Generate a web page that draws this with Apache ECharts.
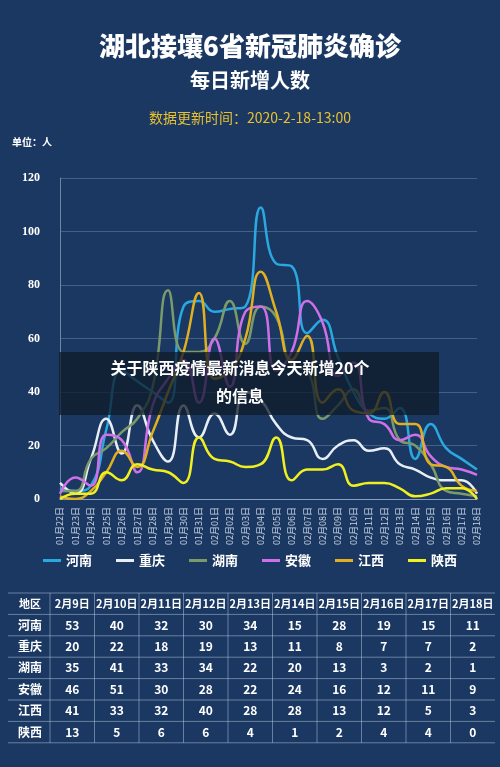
<!DOCTYPE html>
<html><head><meta charset="utf-8">
<script src="https://cdn.jsdelivr.net/npm/echarts@6/dist/echarts.min.js"></script>
<style>html,body{margin:0;padding:0;background:#1b3862}#c{width:500px;height:767px}</style>
</head><body><div id="c"></div>
<script>
const dates = ["01月22日","01月23日","01月24日","01月25日","01月26日","01月27日","01月28日","01月29日","01月30日","01月31日","02月01日","02月02日","02月03日","02月04日","02月05日","02月06日","02月07日","02月08日","02月09日","02月10日","02月11日","02月12日","02月13日","02月14日","02月15日","02月16日","02月17日","02月18日"];
const henan  = [4,3,5,26,48,44,40,36,72,74,70,71,72,109,88,87,62,67,53,40,32,30,34,15,28,19,15,11];
const chongqing = [6,2,15,30,17,35,22,14,35,23,32,24,40,37,28,23,22,15,20,22,18,19,13,11,8,7,7,2];
const hunan  = [3,3,15,19,25,30,42,78,55,55,60,74,58,72,68,50,48,30,35,41,33,34,22,20,13,3,2,1];
const anhui  = [2,8,5,24,22,10,35,45,52,36,60,42,70,72,48,55,74,66,46,51,30,28,22,24,16,12,11,9];
const jiangxi = [1,0,3,10,18,12,25,40,55,77,45,48,60,85,70,52,61,36,41,33,32,40,28,28,13,12,5,3];
const shaanxi = [0,2,2,10,7,13,11,10,6,23,15,14,12,13,23,7,11,11,13,5,6,6,4,1,2,4,4,0];
const seriesNames = ["河南","重庆","湖南","安徽","江西","陕西"];
const seriesColors = ["#2aa8e0","#e8eef5","#7a9a6a","#d070e8","#e0b020","#f0f020"];
const tableHead = ["地区","2月9日","2月10日","2月11日","2月12日","2月13日","2月14日","2月15日","2月16日","2月17日","2月18日"];
const tableRows = [
 ["河南",53,40,32,30,34,15,28,19,15,11],
 ["重庆",20,22,18,19,13,11,8,7,7,2],
 ["湖南",35,41,33,34,22,20,13,3,2,1],
 ["安徽",46,51,30,28,22,24,16,12,11,9],
 ["江西",41,33,32,40,28,28,13,12,5,3],
 ["陕西",13,5,6,6,4,1,2,4,4,0]];
const allData=[henan,chongqing,hunan,anhui,jiangxi,shaanxi];

const F='"Noto Sans CJK SC", sans-serif';
const g=[];
const colX=[8,50];for(let i=1;i<=10;i++)colX.push(50+i*44.5);
const rowY=[593];for(let i=1;i<=7;i++)rowY.push(593+i*21.4);
for(let r=0;r<rowY.length;r++) g.push({type:'line',shape:{x1:8,y1:rowY[r],x2:495,y2:rowY[r]},style:{stroke:'rgba(200,215,235,0.45)',lineWidth:1}});
for(let c=1;c<colX.length-1;c++) g.push({type:'line',shape:{x1:colX[c],y1:rowY[0],x2:colX[c],y2:rowY[7]},style:{stroke:'rgba(200,215,235,0.45)',lineWidth:1}});
const allRows=[tableHead].concat(tableRows);
allRows.forEach((row,r)=>{row.forEach((v,c)=>{
  const cx=c===0?30:(colX[c]+colX[c+1])/2;
  g.push({type:'text',x:cx,y:(rowY[r]+rowY[r+1])/2,style:{text:String(v),fill:'#fff',font:'bold '+(r===0?'11px ':'12px ')+F,align:'center',verticalAlign:'middle'}});
});});
g.push({type:'rect',shape:{x:59,y:352,width:380,height:63},style:{fill:'rgba(15,25,40,0.75)'},z:100});
g.push({type:'text',x:240,y:368,style:{text:'关于陕西疫情最新消息今天新增20个',fill:'#fff',font:'bold 16px '+F,align:'center',verticalAlign:'middle'},z:101});
g.push({type:'text',x:240,y:396,style:{text:'的信息',fill:'#fff',font:'bold 16px '+F,align:'center',verticalAlign:'middle'},z:101});
g.push({type:'text',x:12,y:142,style:{text:'单位：人',fill:'#fff',font:'bold 10px '+F,verticalAlign:'middle'}});

const chart=echarts.init(document.getElementById('c'));
chart.setOption({
 backgroundColor:'#1b3862',
 animation:false,
 title:[
  {text:'湖北接壤6省新冠肺炎确诊',left:'center',top:28,textStyle:{color:'#fff',fontSize:26,fontWeight:900,fontFamily:F}},
  {text:'每日新增人数',left:'center',top:65,textStyle:{color:'#fff',fontSize:20,fontWeight:'bold',fontFamily:F}},
  {text:'数据更新时间：2020-2-18-13:00',left:'center',top:106,textStyle:{color:'#e8c030',fontSize:14,fontWeight:'normal',fontFamily:F}}
 ],
 legend:{bottom:195,left:'center',itemGap:24,itemWidth:18,itemHeight:3,icon:'rect',data:seriesNames,textStyle:{color:'#fff',fontSize:13,fontWeight:'bold',fontFamily:F}},
 grid:{left:60,right:23,top:178,bottom:268,containLabel:false},
 xAxis:{type:'category',data:dates,boundaryGap:false,
  axisLine:{lineStyle:{color:'#8aa0c0'}},axisTick:{show:false},
  axisLabel:{color:'#c8d4e4',rotate:90,fontSize:9,interval:0,fontFamily:F}},
 yAxis:{type:'value',min:0,max:120,interval:20,
  axisLine:{show:true,lineStyle:{color:'#6f86a8'}},
  splitLine:{lineStyle:{color:'rgba(150,170,200,0.35)'}},
  axisLabel:{color:'#fff',fontSize:12,fontWeight:'bold',fontFamily:'"Liberation Serif", serif',margin:20}},
 series:seriesNames.map((n,i)=>({name:n,type:'line',smooth:true,showSymbol:false,data:allData[i],
   lineStyle:{color:seriesColors[i],width:2.5},itemStyle:{color:seriesColors[i]}})),
 graphic:g
});
</script></body></html>
